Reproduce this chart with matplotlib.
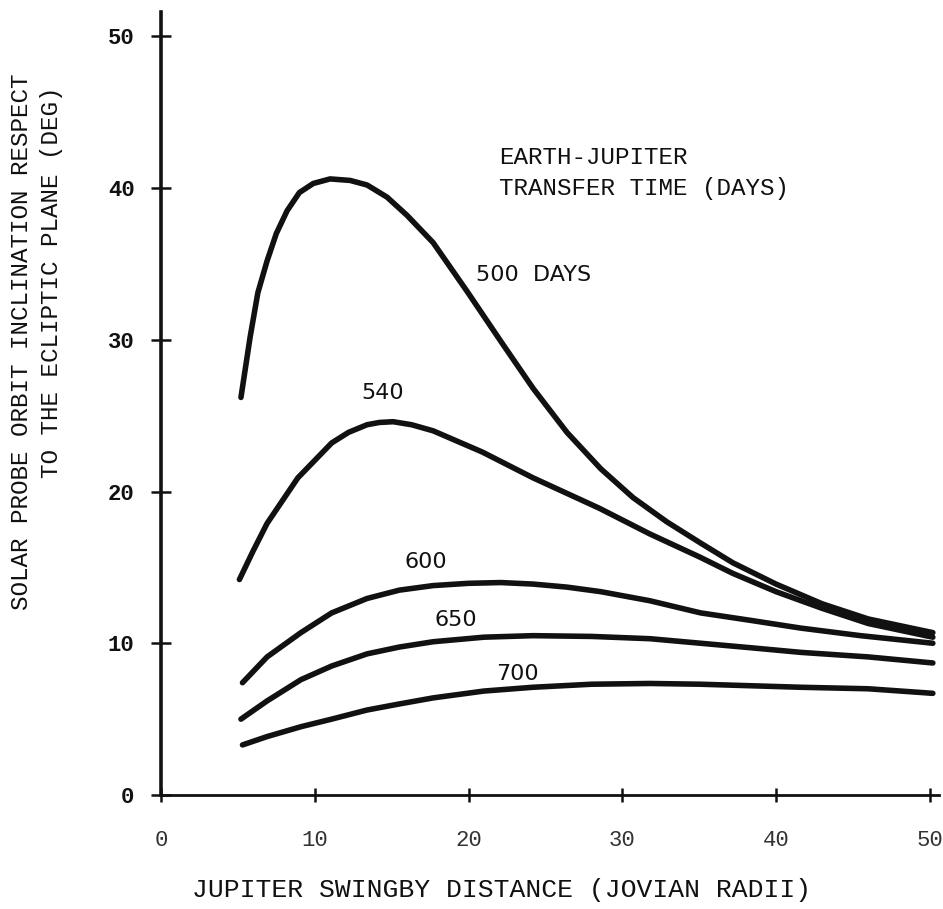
import matplotlib.pyplot as plt

# Jupiter swingby distance (jovian radii) vs. solar probe orbit inclination (deg)
x_500 = [5.2, 5.5, 5.8, 6.3, 6.9, 7.5, 8.2, 9.0, 9.9, 11.0, 12.3, 13.4, 14.7, 16.0, 17.7,
         19.9, 22.1, 24.2, 26.4, 28.6, 30.7, 32.9, 35.1, 37.2, 40.0, 43.0, 46.0, 50.2]
y_500 = [26.2, 28.2, 30.2, 33.1, 35.2, 37.0, 38.5, 39.7, 40.3, 40.6, 40.5, 40.2, 39.4, 38.2, 36.4,
         33.2, 29.9, 26.8, 23.9, 21.5, 19.6, 18.0, 16.6, 15.3, 13.9, 12.6, 11.6, 10.7]

x_540 = [5.1, 6.0, 6.9, 8.9, 11.1, 12.2, 13.4, 14.2, 15.1, 16.3, 17.7, 20.9, 24.2, 28.5,
         31.8, 35.0, 37.2, 40.0, 43.0, 46.0, 50.2]
y_540 = [14.2, 16.1, 17.9, 20.9, 23.2, 23.9, 24.4, 24.55, 24.6, 24.4, 24.0, 22.6, 20.9, 18.9,
         17.2, 15.7, 14.6, 13.4, 12.3, 11.3, 10.4]

x_600 = [5.3, 6.9, 9.1, 11.1, 13.4, 15.5, 17.7, 20.0, 22.1, 24.2, 26.4, 28.6, 31.8, 35.1,
         38.4, 41.6, 45.5, 50.2]
y_600 = [7.4, 9.1, 10.7, 12.0, 12.95, 13.5, 13.8, 13.95, 14.0, 13.9, 13.7, 13.4, 12.8, 12.0,
         11.5, 11.0, 10.5, 10.0]

x_650 = [5.2, 6.9, 9.1, 11.1, 13.4, 15.5, 17.7, 21.0, 24.2, 28.0, 31.8, 35.1, 38.4, 41.6, 46.0, 50.2]
y_650 = [5.0, 6.2, 7.6, 8.5, 9.3, 9.75, 10.1, 10.4, 10.5, 10.45, 10.3, 10.0, 9.7, 9.4, 9.1, 8.7]

x_700 = [5.3, 6.9, 9.1, 11.1, 13.4, 15.5, 17.7, 21.0, 24.2, 28.0, 31.8, 35.1, 41.6, 46.0, 50.2]
y_700 = [3.3, 3.85, 4.5, 5.0, 5.6, 6.0, 6.4, 6.85, 7.1, 7.3, 7.35, 7.3, 7.1, 7.0, 6.7]

x_ticks = [0, 10, 20, 30, 40, 50]
y_ticks = [0, 10, 20, 30, 40, 50]

mono = 'Liberation Mono'
sans = 'DejaVu Sans'
ink = '#111111'

fig = plt.figure(figsize=(9.43, 9.09), dpi=100)
ax = fig.add_axes([161 / 943, 1 - 795 / 909, (939 - 161) / 943, (795 - 12) / 909])

for xs, ys in [(x_500, y_500), (x_540, y_540), (x_600, y_600), (x_650, y_650), (x_700, y_700)]:
    ax.plot(xs, ys, color=ink, lw=4.0, solid_capstyle='round', solid_joinstyle='round')

ax.set_xlim(0, 50.6)
ax.set_ylim(0, 51.6)

for side in ['top', 'right']:
    ax.spines[side].set_visible(False)
ax.spines['left'].set_linewidth(2.6)
ax.spines['bottom'].set_linewidth(2.0)
ax.spines['left'].set_color(ink)
ax.spines['bottom'].set_color(ink)

ax.set_xticks(x_ticks)
ax.set_yticks(y_ticks)
ax.set_xticklabels([str(v) for v in x_ticks], fontfamily=mono, fontsize=16, color='#333333')
ax.set_yticklabels([str(v) for v in y_ticks], fontfamily=mono, fontsize=16, fontweight='bold', color=ink)
ax.tick_params(axis='x', direction='inout', length=10, width=1.8, color=ink, pad=20)
ax.tick_params(axis='y', direction='inout', length=14, width=1.8, color=ink, pad=12)

# axis titles
fig.text(192 / 943, 1 - 890 / 909, 'JUPITER SWINGBY DISTANCE (JOVIAN RADII)',
         fontfamily=mono, fontsize=19, color=ink, ha='left', va='center')
fig.text(22 / 943, 1 - 342 / 909, 'SOLAR PROBE ORBIT INCLINATION RESPECT',
         fontfamily=mono, fontsize=17.5, color=ink, ha='center', va='center', rotation=90)
fig.text(52 / 943, 1 - 282 / 909, 'TO THE ECLIPTIC PLANE (DEG)',
         fontfamily=mono, fontsize=17.5, color=ink, ha='center', va='center', rotation=90)

# legend heading and curve labels
ax.text(22.0, 42.0, 'EARTH-JUPITER', fontfamily=mono, fontsize=17.5, color=ink,
        ha='left', va='center')
ax.text(22.0, 40.0, 'TRANSFER TIME (DAYS)', fontfamily=mono, fontsize=17.5, color=ink,
        ha='left', va='center')

ax.text(20.5, 34.3, '500  DAYS', fontfamily=sans, fontsize=16, color=ink, ha='left', va='center')
ax.text(14.4, 26.5, '540', fontfamily=sans, fontsize=16, color=ink, ha='center', va='center')
ax.text(17.2, 15.35, '600', fontfamily=sans, fontsize=16, color=ink, ha='center', va='center')
ax.text(19.2, 11.5, '650', fontfamily=sans, fontsize=16, color=ink, ha='center', va='center')
ax.text(23.2, 8.0, '700', fontfamily=sans, fontsize=16, color=ink, ha='center', va='center')

fig.savefig('out.png', dpi=100)
